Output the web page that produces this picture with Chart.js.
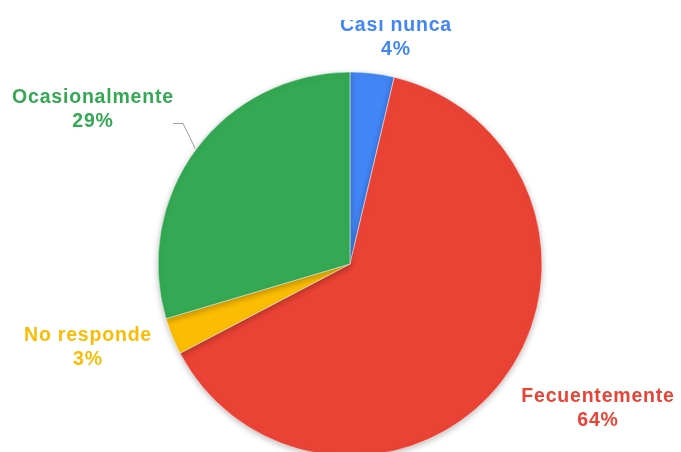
<!DOCTYPE html>
<html>
<head>
<meta charset="utf-8">
<script src="https://cdn.jsdelivr.net/npm/chart.js@4.4.0/dist/chart.umd.min.js"></script>
<style>
  html, body { margin: 0; padding: 0; background: #fff; }
  #wrap { width: 681px; height: 452px; }
</style>
</head>
<body>
<div id="wrap"><canvas id="chart" width="681" height="452"></canvas></div>
<script>
// data
var categories = ["Casi nunca", "Fecuentemente", "No responde", "Ocasionalmente"];
var shares = [3.7, 63.6, 3.1, 29.6];
var shownPct = ["4%", "64%", "3%", "29%"];
var colors = ["#4285F4", "#EA4335", "#FBBC04", "#34A853"];

// where each label sits (centre x, first line y), layout only
var labelPos = [
    { x: 396, y: 26 },
    { x: 598, y: 397 },
    { x: 88, y: 336 },
    { x: 93, y: 98 }
];

var shadowPlugin = {
    id: 'pieShadow',
    beforeDatasetsDraw: function(chart) {
        var ctx = chart.ctx;
        ctx.save();
        ctx.shadowColor = 'rgba(0,0,0,0.25)';
        ctx.shadowBlur = 6;
        ctx.shadowOffsetX = 0;
        ctx.shadowOffsetY = 2;
    },
    afterDatasetsDraw: function(chart) {
        chart.ctx.restore();
    }
};

var labelPlugin = {
    id: 'outLabels',
    afterDraw: function(chart) {
        var ctx = chart.ctx;
        var meta = chart.getDatasetMeta(0);
        ctx.save();
        ctx.font = 'bold 19.5px "Liberation Sans", Arial, sans-serif';
        ctx.textAlign = 'center';
        ctx.textBaseline = 'middle';
        if ('letterSpacing' in ctx) ctx.letterSpacing = '0.8px';
        for (var i = 0; i < categories.length; i++) {
            ctx.save();
            if (i === 0) {
                // the source image cuts the top of this label off
                ctx.beginPath();
                ctx.rect(0, 20, chart.width, chart.height);
                ctx.clip();
            }
            ctx.fillStyle = colors[i];
            ctx.fillText(categories[i], labelPos[i].x, labelPos[i].y);
            ctx.fillText(shownPct[i], labelPos[i].x, labelPos[i].y + 24);
            ctx.restore();
        }
        // leader line for Ocasionalmente, ending on the arc middle
        var arc = meta.data[3];
        var mid = (arc.startAngle + arc.endAngle) / 2;
        var ex = arc.x + Math.cos(mid) * (arc.outerRadius + 1);
        var ey = arc.y + Math.sin(mid) * (arc.outerRadius + 1);
        ctx.strokeStyle = '#9e9e9e';
        ctx.lineWidth = 1;
        ctx.beginPath();
        ctx.moveTo(173, 123.5);
        ctx.lineTo(183, 123.5);
        ctx.lineTo(ex, ey);
        ctx.stroke();
        ctx.restore();
    }
};

new Chart(document.getElementById('chart').getContext('2d'), {
    type: 'pie',
    data: {
        labels: categories,
        datasets: [{
            data: shares,
            backgroundColor: colors,
            borderColor: '#ffffff',
            borderWidth: 0.5,
            hoverOffset: 0
        }]
    },
    options: {
        responsive: false,
        animation: false,
        radius: 192,
        layout: { padding: { left: 19, right: 0, top: 76, bottom: 0 } },
        plugins: {
            legend: { display: false },
            tooltip: { enabled: false }
        }
    },
    plugins: [shadowPlugin, labelPlugin]
});
</script>
</body>
</html>
